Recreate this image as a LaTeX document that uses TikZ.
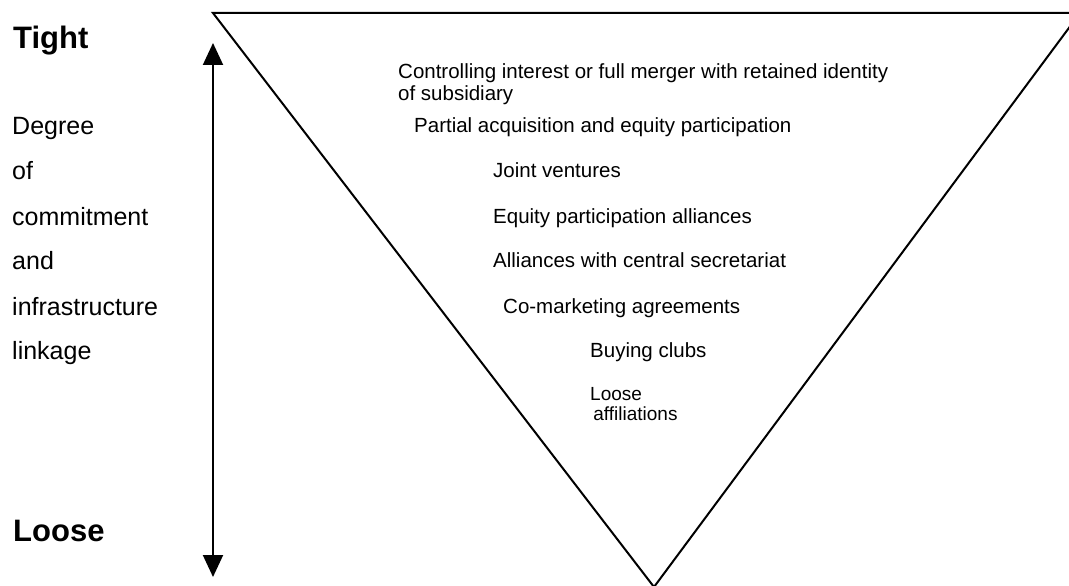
\documentclass[tikz,border=0pt]{standalone}
\usepackage{fontspec}
\setmainfont{Liberation Sans}
\usetikzlibrary{arrows.meta}
\tikzset{
  big/.style={font=\bfseries\fontsize{31}{31}\selectfont, anchor=base west, inner sep=0pt},
  side/.style={font=\fontsize{25}{25}\selectfont, anchor=base west, inner sep=0pt},
  item/.style={font=\fontsize{20.5}{23}\selectfont, anchor=base west, inner sep=0pt, align=left},
  edge/.style={line width=2pt, line join=miter},
  scale arrow/.style={line width=2pt, {Triangle[width=20pt,length=22pt]}-{Triangle[width=20pt,length=22pt]}}
}
\begin{document}
\begin{tikzpicture}[x=1pt,y=-1pt]
\useasboundingbox (0,0) rectangle (1069,586);
% triangle
\coordinate (tl) at (213,13);
\coordinate (tr) at (1080,13);
\coordinate (ap) at (654,587);
\draw[edge] (tl) -- (tr) -- (ap) -- cycle;
% arrow
\coordinate (atop) at (213,43);
\coordinate (abot) at (213,577);
\draw[scale arrow] (atop) -- (abot);
% left labels
\node[big] (tight) at (13,49) {Tight};
\node[side] (deg) at (12,134) {Degree};
\node[side] (of) at (12,179) {of};
\node[side] (com) at (12,225) {commitment};
\node[side] (and) at (12,269) {and};
\node[side] (inf) at (12,315) {infrastructure};
\node[side] (lin) at (12,359) {linkage};
\node[big] (loose) at (13,541) {Loose};
% items (multi-line nodes: base = last line)
\node[item] (i1) at (398,101) {Controlling interest or full merger with retained identity\\of subsidiary};
\node[item] (i2) at (414,132) {Partial acquisition and equity participation};
\node[item] (i3) at (493,177) {Joint ventures};
\node[item] (i4) at (493,223) {Equity participation alliances};
\node[item] (i5) at (493,267) {Alliances with central secretariat};
\node[item] (i6) at (503,313) {Co-marketing agreements};
\node[item] (i7) at (590,357) {Buying clubs};
\node[item, font=\fontsize{19}{20}\selectfont] (i8) at (590,420) {Loose\\\,affiliations};
\end{tikzpicture}
\end{document}
